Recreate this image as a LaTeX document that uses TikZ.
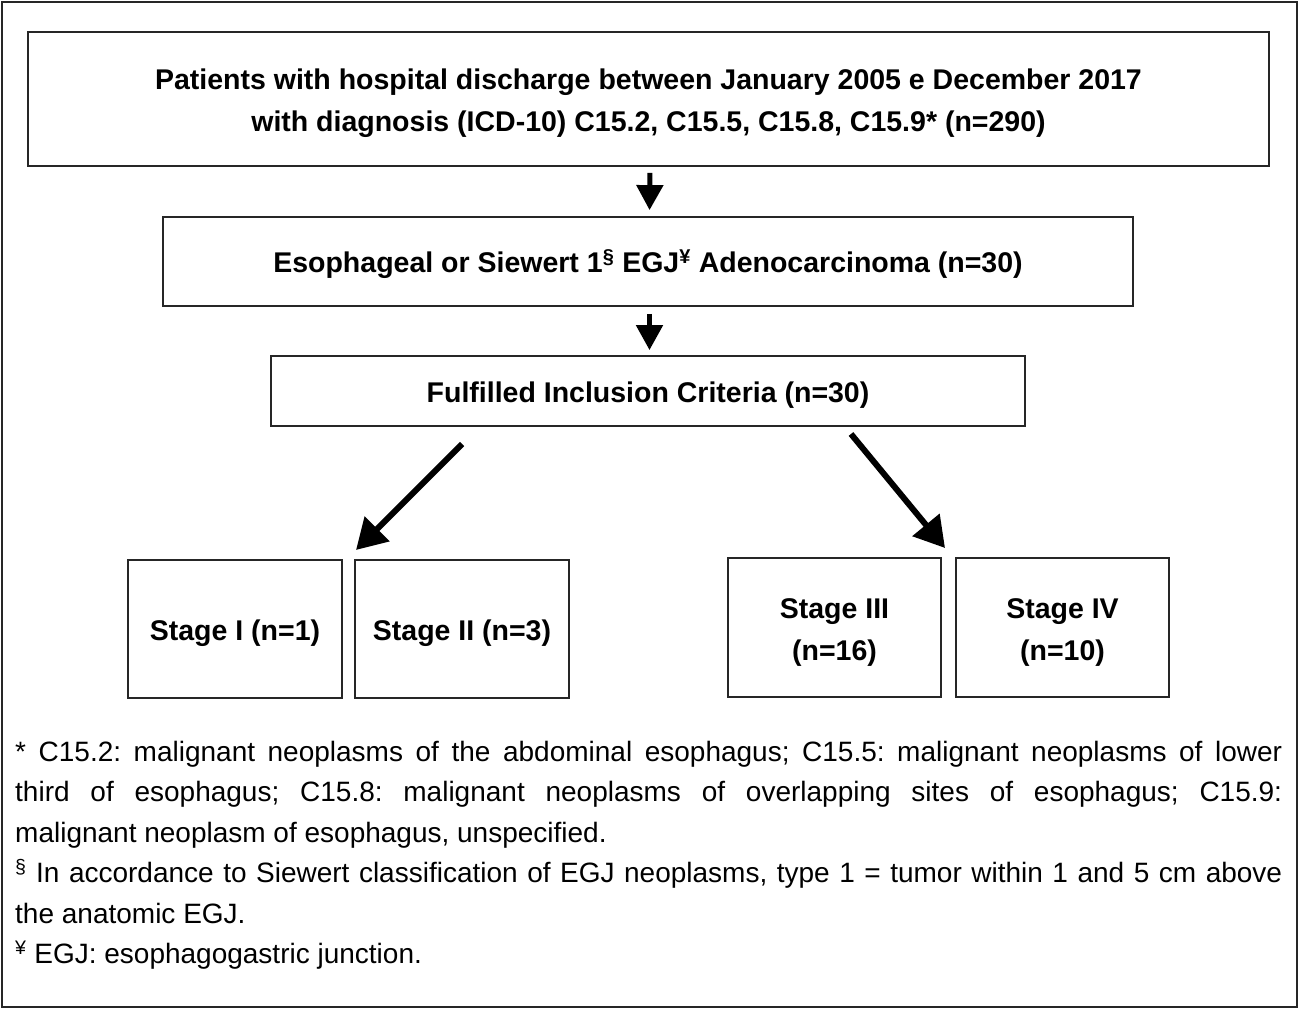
\documentclass[tikz,border=0pt]{standalone}
\usepackage{fontspec}
\setmainfont{Liberation Sans}
\usetikzlibrary{arrows.meta}
\newcommand{\tstrut}{\rule{0pt}{29pt}}
\begin{document}
\begin{tikzpicture}[x=1pt,y=-1pt,
  box/.style={draw=black!85, line width=1.8pt, inner sep=0pt, align=center,
    font=\bfseries\fontsize{28.5}{42}\selectfont},
  arr/.style={line width=6pt, -{Triangle[width=34pt,length=30pt]}},
  varr/.style={line width=5pt, -{Triangle[width=26pt,length=25pt]}}]
\useasboundingbox (0,0) rectangle (1299,1009);
\draw[line width=2pt, draw=black!85] (2,2) rectangle (1297,1007);
\node[box, minimum width=1241pt, minimum height=134pt] (p) at (648.5,99)
  {\tstrut Patients with hospital discharge between January 2005 e December 2017\\with diagnosis (ICD-10) C15.2, C15.5, C15.8, C15.9* (n=290)};
\node[box, minimum width=970pt, minimum height=89pt] (e) at (648,261.5)
  {\tstrut Esophageal or Siewert 1\textsuperscript{§} EGJ\textsuperscript{¥} Adenocarcinoma (n=30)};
\node[box, minimum width=754pt, minimum height=70pt] (f) at (648,391)
  {\tstrut Fulfilled Inclusion Criteria (n=30)};
\node[box, minimum width=214pt, minimum height=138pt] (s1) at (235,629) {\tstrut Stage I (n=1)};
\node[box, minimum width=214pt, minimum height=138pt] (s2) at (462,629) {\tstrut Stage II (n=3)};
\node[box, minimum width=213pt, minimum height=139pt] (s3) at (834.5,627.5) {\tstrut Stage III\\(n=16)};
\node[box, minimum width=213pt, minimum height=139pt] (s4) at (1062.5,627.5) {\tstrut Stage IV\\(n=10)};
\draw[varr, shorten <=6pt, shorten >=6pt] ([xshift=1.5pt]p.south) -- ([xshift=1.5pt]e.north);
\draw[varr, shorten <=7pt, shorten >=5pt] ([xshift=1.5pt]e.south) -- ([xshift=1.5pt]f.north);
\coordinate (la) at (462,444);
\coordinate (lb) at (356,550);
\coordinate (ra) at (851,434);
\coordinate (rb) at (945,548);
\draw[arr] (la) -- (lb);
\draw[arr] (ra) -- (rb);
\node[anchor=north west, inner sep=0pt, text width=1267pt, align=justify,
  font=\fontsize{28}{40.5}\selectfont] (notes) at (15,741)
  {\frenchspacing\hyphenpenalty=10000 * C15.2: malignant neoplasms of the abdominal esophagus; C15.5: malignant neoplasms of lower\linebreak
   third of esophagus; C15.8: malignant neoplasms of overlapping sites of esophagus; C15.9:\linebreak
   malignant neoplasm of esophagus, unspecified.\\
   \textsuperscript{§} In accordance to Siewert classification of EGJ neoplasms, type 1 = tumor within 1 and 5 cm above\linebreak
   the anatomic EGJ.\\
   \textsuperscript{¥} EGJ: esophagogastric junction.};
\end{tikzpicture}
\end{document}
